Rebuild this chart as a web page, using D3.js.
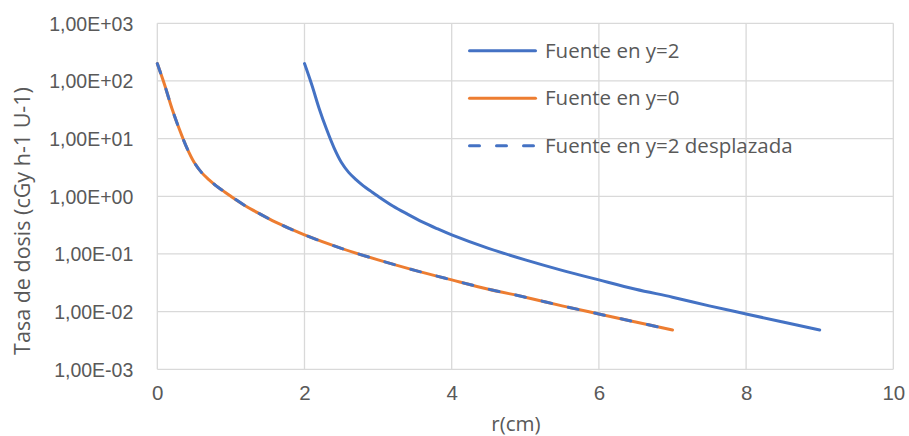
<!DOCTYPE html>
<html>
<head>
<meta charset="utf-8">
<script src="https://cdn.jsdelivr.net/npm/d3@7"></script>
<style>
  html, body { margin: 0; padding: 0; background: #fff; }
  svg { display: block; font-family: "Open Sans", "Noto Sans", sans-serif; }
</style>
</head>
<body>
<svg id="chart" width="909" height="436"></svg>
<script>
// Dose rate vs distance for a source placed at y=2, at y=0, and the y=2 source shifted back
const fuenteY2R = [2, 2.1, 2.2, 2.3, 2.4, 2.5, 2.6, 2.7, 2.8, 2.9, 3, 3.2, 3.4, 3.6, 3.8, 4, 4.5, 5, 5.5, 6, 6.5, 7, 7.5, 8, 8.5, 9];
const fuenteY2Dose = [200, 85, 33, 14.5, 7.0, 3.9, 2.6, 1.95, 1.52, 1.23, 1.0, 0.68, 0.49, 0.36, 0.275, 0.214, 0.125, 0.079, 0.052, 0.0355, 0.0245, 0.0178, 0.0126, 0.0091, 0.0066, 0.0048];

const fuenteY0R = [0, 0.1, 0.2, 0.3, 0.4, 0.5, 0.6, 0.7, 0.8, 0.9, 1, 1.2, 1.4, 1.6, 1.8, 2, 2.5, 3, 3.5, 4, 4.5, 5, 5.5, 6, 6.5, 7];
const fuenteY0Dose = [200, 85, 33, 14.5, 7.0, 3.9, 2.6, 1.95, 1.52, 1.23, 1.0, 0.68, 0.49, 0.36, 0.275, 0.214, 0.125, 0.079, 0.052, 0.0355, 0.0245, 0.0178, 0.0126, 0.0091, 0.0066, 0.0048];

const desplazadaR = [0, 0.1, 0.2, 0.3, 0.4, 0.5, 0.6, 0.7, 0.8, 0.9, 1, 1.2, 1.4, 1.6, 1.8, 2, 2.5, 3, 3.5, 4, 4.5, 5, 5.5, 6, 6.5, 7];
const desplazadaDose = [200, 85, 33, 14.5, 7.0, 3.9, 2.6, 1.95, 1.52, 1.23, 1.0, 0.68, 0.49, 0.36, 0.275, 0.214, 0.125, 0.079, 0.052, 0.0355, 0.0245, 0.0178, 0.0126, 0.0091, 0.0066, 0.0048];

const seriesNames = ["Fuente en y=2", "Fuente en y=0", "Fuente en y=2 desplazada"];

const xTicks = [0, 2, 4, 6, 8, 10];
const xTickLabels = ["0", "2", "4", "6", "8", "10"];
const yTicks = [1e-3, 1e-2, 1e-1, 1e0, 1e1, 1e2, 1e3];
const yTickLabels = ["1,00E-03", "1,00E-02", "1,00E-01", "1,00E+00", "1,00E+01", "1,00E+02", "1,00E+03"];

const xTitle = "r(cm)";
const yTitle = "Tasa de dosis (cGy h-1 U-1)";

// Layout
const plot = { left: 157.3, right: 893.3, top: 23.3, bottom: 369.3 };
const textColor = "#595959";
const gridColor = "#d9d9d9";
const blue = "#4472c4", orange = "#ed7d31";
const tickFont = "19.5px";
const labelFont = "20.5px";
const titleFont = "21.5px";

const svg = d3.select("#chart");

const x = d3.scaleLinear().domain([0, 10]).range([plot.left, plot.right]);
const y = d3.scaleLog().domain([1e-3, 1e3]).range([plot.bottom, plot.top]);

// Gridlines
const grid = svg.append("g").attr("class", "grid");
grid.selectAll("line.h").data(yTicks).join("line")
  .attr("class", "h")
  .attr("x1", plot.left).attr("x2", plot.right)
  .attr("y1", d => y(d)).attr("y2", d => y(d))
  .attr("stroke", gridColor).attr("stroke-width", 1.3);
grid.selectAll("line.v").data(xTicks).join("line")
  .attr("class", "v")
  .attr("y1", plot.top).attr("y2", plot.bottom)
  .attr("x1", d => x(d)).attr("x2", d => x(d))
  .attr("stroke", gridColor).attr("stroke-width", 1.3);

// Axes (labels only; the grid provides the lines)
const xAxis = d3.axisBottom(x).tickValues(xTicks).tickSize(0).tickPadding(0)
  .tickFormat((d, i) => xTickLabels[i]);
const gx = svg.append("g").attr("transform", `translate(0,${plot.bottom})`).call(xAxis);
gx.select(".domain").remove();
gx.selectAll("text")
  .attr("y", 31).attr("dy", 0)
  .attr("fill", textColor).style("font-size", labelFont).style("font-family", "inherit");

const yAxis = d3.axisLeft(y).tickValues(yTicks).tickSize(0).tickPadding(0)
  .tickFormat((d, i) => yTickLabels[i]);
const gy = svg.append("g").attr("transform", `translate(${plot.left},0)`).call(yAxis);
gy.select(".domain").remove();
gy.selectAll("text")
  .attr("x", -24).attr("dy", "0.35em")
  .attr("fill", textColor).style("font-size", tickFont).style("font-family", "inherit");

// Axis titles
svg.append("text")
  .attr("x", 516).attr("y", 431)
  .attr("text-anchor", "middle")
  .attr("fill", textColor).style("font-size", labelFont)
  .text(xTitle);

svg.append("text")
  .attr("transform", `translate(30,221) rotate(-90)`)
  .attr("text-anchor", "middle")
  .attr("fill", textColor).style("font-size", titleFont)
  .text(yTitle);

// Series
const line = d3.line()
  .x(d => x(d[0]))
  .y(d => y(d[1]))
  .curve(d3.curveCatmullRom.alpha(0.5));

const zip = (a, b) => a.map((v, i) => [v, b[i]]);

const series = [
  { name: seriesNames[0], data: zip(fuenteY2R, fuenteY2Dose), color: blue, dash: null },
  { name: seriesNames[1], data: zip(fuenteY0R, fuenteY0Dose), color: orange, dash: null },
  { name: seriesNames[2], data: zip(desplazadaR, desplazadaDose), color: blue, dash: "10,17" }
];

svg.append("g").selectAll("path").data(series).join("path")
  .attr("d", d => line(d.data))
  .attr("fill", "none")
  .attr("stroke", d => d.color)
  .attr("stroke-width", 3)
  .attr("stroke-linecap", "round")
  .attr("stroke-linejoin", "round")
  .attr("stroke-dasharray", d => d.dash);

// Legend
const legend = svg.append("g").attr("transform", "translate(468,50.7)");
const item = legend.selectAll("g").data(series).join("g")
  .attr("transform", (d, i) => `translate(0,${i * 47.5})`);
item.append("line")
  .attr("x1", 1.5).attr("x2", 67.5).attr("y1", 0).attr("y2", 0)
  .attr("stroke", d => d.color).attr("stroke-width", 3)
  .attr("stroke-linecap", "round")
  .attr("stroke-dasharray", d => d.dash);
item.append("text")
  .attr("x", 77).attr("dy", "0.35em")
  .attr("fill", textColor).style("font-size", labelFont)
  .text(d => d.name);
</script>
</body>
</html>
